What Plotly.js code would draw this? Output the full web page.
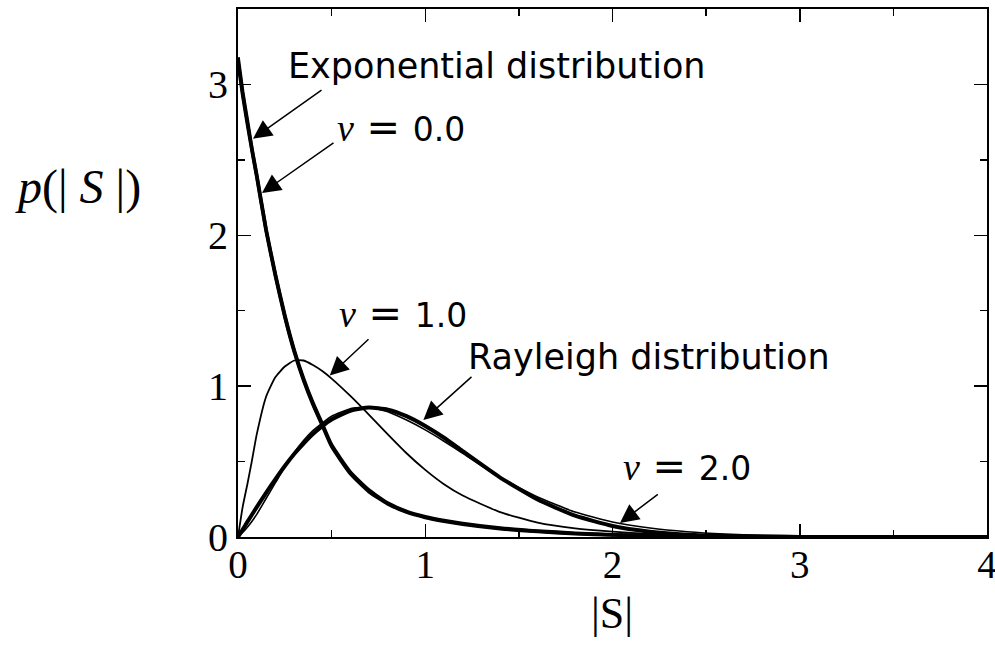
<!DOCTYPE html>
<html>
<head>
<meta charset="utf-8">
<script src="https://cdn.plot.ly/plotly-3.0.1.min.js"></script>
<style>
  html, body { margin: 0; padding: 0; background: #fff; }
  #chart { width: 995px; height: 646px; }
</style>
</head>
<body>
<div id="chart"></div>
<script>
// |S| grid shared by all curves
const sGrid = [0, 0.025, 0.05, 0.075, 0.1, 0.15, 0.2, 0.25, 0.3, 0.35, 0.4, 0.45, 0.5, 0.6, 0.7, 0.8, 0.9, 1.0, 1.1, 1.2, 1.4, 1.6, 1.8, 2.0, 2.2, 2.4, 2.6, 2.8, 3.0, 3.5, 4.0];

// density values p(|S|)
const expDist = [3.18, 2.95, 2.76, 2.57, 2.40, 2.04, 1.74, 1.47, 1.24, 1.05, 0.89, 0.75, 0.61, 0.43, 0.31, 0.225, 0.17, 0.135, 0.11, 0.09, 0.06, 0.04, 0.025, 0.015, 0.01, 0.006, 0.004, 0.003, 0.002, 0.001, 0.0];
const nu0 = [3.15, 2.93, 2.74, 2.56, 2.39, 2.03, 1.73, 1.46, 1.23, 1.04, 0.88, 0.74, 0.60, 0.42, 0.30, 0.22, 0.165, 0.13, 0.105, 0.085, 0.055, 0.036, 0.022, 0.013, 0.008, 0.005, 0.003, 0.002, 0.001, 0.0005, 0.0];
const nu1 = [0, 0.20, 0.35, 0.51, 0.68, 0.93, 1.06, 1.13, 1.17, 1.17, 1.14, 1.10, 1.05, 0.935, 0.81, 0.68, 0.555, 0.445, 0.35, 0.275, 0.165, 0.095, 0.057, 0.035, 0.02, 0.012, 0.007, 0.004, 0.002, 0.0005, 0.0];
const rayleigh = [0, 0.05, 0.10, 0.149, 0.198, 0.293, 0.384, 0.471, 0.55, 0.619, 0.682, 0.735, 0.779, 0.837, 0.858, 0.844, 0.801, 0.736, 0.658, 0.569, 0.394, 0.248, 0.141, 0.073, 0.035, 0.015, 0.006, 0.002, 0.0007, 0.0, 0.0];
const nu2 = [0, 0.03, 0.065, 0.105, 0.15, 0.255, 0.36, 0.465, 0.56, 0.64, 0.705, 0.755, 0.80, 0.85, 0.86, 0.83, 0.775, 0.71, 0.635, 0.555, 0.395, 0.265, 0.165, 0.10, 0.06, 0.035, 0.02, 0.011, 0.006, 0.001, 0.0];

const xTicks = [0, 1, 2, 3, 4];
const yTicks = [0, 1, 2, 3];

function curve(y, width) {
  return {
    x: sGrid, y: y, type: 'scatter', mode: 'lines',
    line: { color: '#000', width: width, shape: 'spline', smoothing: 0.5 },
    hoverinfo: 'skip', showlegend: false
  };
}

const data = [
  curve(nu1, 1.8),
  curve(nu2, 1.6),
  curve(rayleigh, 4),
  curve(nu0, 3.6),
  curve(expDist, 3.6)
];

const labelFont = { family: 'DejaVu Sans, sans-serif', size: 35, color: '#000' };
const nuFont = { family: 'DejaVu Sans, sans-serif', size: 33, color: '#000' };
function nuText(v) {
  return '<span style="font-family:\'Liberation Serif\';font-style:italic;font-size:38px">ν</span>' +
         '<span style="font-size:40px"> = </span>' + v;
}
function arrow(x0, y0, x1, y1) {
  return {
    x: x1, y: y1, ax: x0, ay: y0, xref: 'x', yref: 'y', axref: 'x', ayref: 'y',
    text: '', showarrow: true, arrowhead: 2, arrowsize: 2.5, arrowwidth: 1.5, arrowcolor: '#000'
  };
}
function label(x, y, text, font) {
  return { x: x, y: y, xref: 'x', yref: 'y', text: text, showarrow: false,
           xanchor: 'center', yanchor: 'middle', font: font };
}

const layout = {
  width: 995, height: 646,
  margin: { l: 238, r: 8, t: 9, b: 109 },
  paper_bgcolor: '#fff', plot_bgcolor: '#fff',
  font: { family: 'Liberation Serif, serif', color: '#000' },
  showlegend: false,
  xaxis: {
    range: [0, 4], tickvals: xTicks, ticktext: xTicks.map(String),
    ticks: 'inside', ticklen: 13, tickwidth: 1.5, tickcolor: '#000',
    minor: { dtick: 0.5, ticks: 'inside', ticklen: 7, tickwidth: 1.5, tickcolor: '#000' },
    showline: true, linecolor: '#000', linewidth: 2, mirror: 'ticks',
    showgrid: false, zeroline: false, ticklabeloverflow: 'allow', ticklabelstandoff: -8,
    tickfont: { family: 'Liberation Serif, serif', size: 39, color: '#000' }
  },
  yaxis: {
    range: [0, 3.5], tickvals: yTicks, ticktext: yTicks.map(String),
    ticks: 'inside', ticklen: 13, tickwidth: 1.5, tickcolor: '#000',
    minor: { dtick: 0.5, ticks: 'inside', ticklen: 7, tickwidth: 1.5, tickcolor: '#000' },
    showline: true, linecolor: '#000', linewidth: 2, mirror: 'ticks',
    showgrid: false, zeroline: false, ticklabeloverflow: 'allow',
    tickfont: { family: 'Liberation Serif, serif', size: 40, color: '#000' }
  },
  annotations: [
    { xref: 'paper', yref: 'paper', x: 0.4997, y: -0.145, xanchor: 'center', yanchor: 'middle',
      text: '|S|', showarrow: false,
      font: { family: 'Liberation Serif, serif', size: 44, color: '#000' } },
    { xref: 'paper', yref: 'paper', x: -0.2136, y: 0.663, xanchor: 'center', yanchor: 'middle',
      text: '<i>p</i>(| <i>S</i> |)', showarrow: false,
      font: { family: 'Liberation Serif, serif', size: 48, color: '#000' } },
    label(1.383, 3.12, 'Exponential distribution', labelFont),
    label(0.87, 2.715, nuText('0.0'), nuFont),
    label(0.88, 1.483, nuText('1.0'), nuFont),
    label(2.194, 1.19, 'Rayleigh distribution', labelFont),
    label(2.40, 0.47, nuText('2.0'), nuFont),
    arrow(0.454, 2.97, 0.08, 2.64),
    arrow(0.518, 2.62, 0.128, 2.28),
    arrow(0.705, 1.32, 0.49, 1.07),
    arrow(1.255, 1.07, 0.99, 0.775),
    arrow(2.25, 0.29, 2.04, 0.093)
  ]
};

Plotly.newPlot('chart', data, layout, { displayModeBar: false, staticPlot: true });
</script>
</body>
</html>
